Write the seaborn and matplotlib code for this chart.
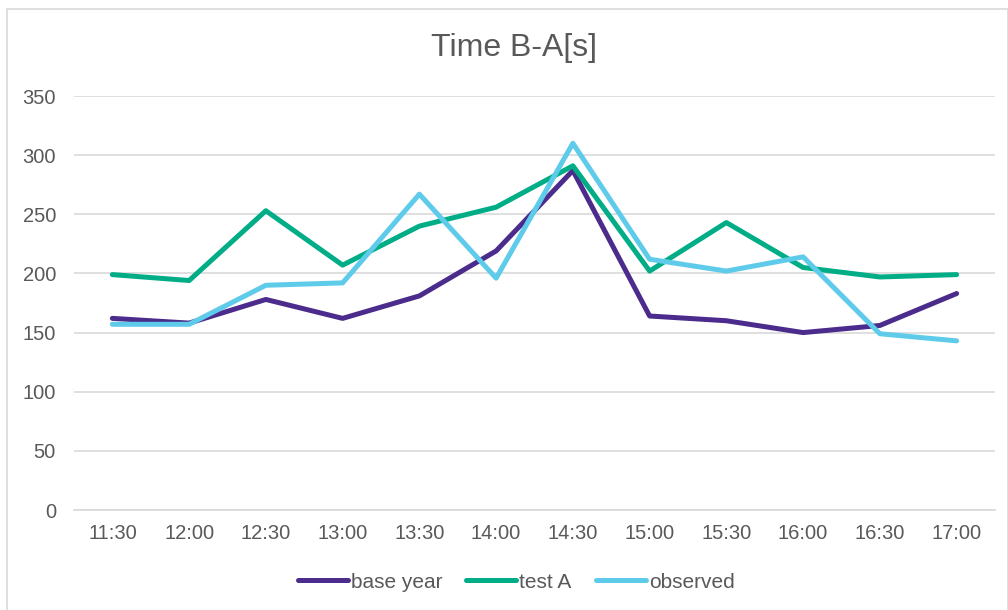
import numpy as np
import pandas as pd
import matplotlib
matplotlib.use("Agg")
import matplotlib.pyplot as plt
import seaborn as sns
from matplotlib.patches import Rectangle

times = ["11:30", "12:00", "12:30", "13:00", "13:30", "14:00",
         "14:30", "15:00", "15:30", "16:00", "16:30", "17:00"]
base_year = [162, 158, 178, 162, 181, 219, 287, 164, 160, 150, 156, 183]
test_a = [199, 194, 253, 207, 240, 256, 291, 202, 243, 205, 197, 199]
observed = [157, 157, 190, 192, 267, 196, 310, 212, 202, 214, 149, 143]
series_names = ["base year", "test A", "observed"]
colors = ["#4b2b8c", "#00ad86", "#5ecbeb"]

df = pd.DataFrame({
    "time": times * 3,
    "value": base_year + test_a + observed,
    "series": np.repeat(series_names, len(times)),
})
df["pos"] = list(range(len(times))) * 3

sns.set_theme(style="white")
plt.rcParams["font.family"] = ["Liberation Sans", "DejaVu Sans"]

fig = plt.figure(figsize=(10.08, 6.10), dpi=100)
W, H = 1008, 610
ax = fig.add_axes([74 / W, 1 - 510 / H, (995 - 74) / W, (510 - 96) / H])

# outer chart border
fig.patches.append(Rectangle((7 / W, -0.01), (W - 7.5) / W, (H - 9) / H + 0.01,
                             transform=fig.transFigure, fill=False,
                             edgecolor="#d9d9d9", linewidth=1.2))

lw = 3.6
sns.lineplot(data=df, x="pos", y="value", hue="series", hue_order=series_names,
             palette=colors, linewidth=lw, ax=ax, legend=False, sort=False)

ax.set_xlim(-0.5, len(times) - 0.5)
ax.set_ylim(0, 350)
ax.set_yticks(range(0, 351, 50))
ax.set_xticks(range(len(times)))
ax.set_xticklabels(times)
ax.grid(axis="y", color="#d9d9d9", linewidth=1.2)
ax.set_axisbelow(True)
for s in ["top", "right", "left"]:
    ax.spines[s].set_visible(False)
ax.spines["bottom"].set_color("#d9d9d9")
ax.spines["bottom"].set_linewidth(1.2)
ax.tick_params(axis="both", length=0, labelsize=14.5, labelcolor="#595959")
ax.tick_params(axis="x", pad=10)
ax.tick_params(axis="y", pad=13)
ax.set_xlabel("")
ax.set_ylabel("")

fig.text(514 / W, 1 - 48 / H, "Time B-A[s]", ha="center", va="center",
         fontsize=23, color="#595959")

handles = [plt.Line2D([], [], color=c, linewidth=lw) for c in colors]
fig.legend(handles, series_names, loc="center", bbox_to_anchor=(516 / W, 1 - 582 / H),
           ncol=3, frameon=False, fontsize=15, handlelength=2.4, handletextpad=0.15,
           columnspacing=1.15, labelcolor="#595959")

fig.savefig("out.png", dpi=100)
